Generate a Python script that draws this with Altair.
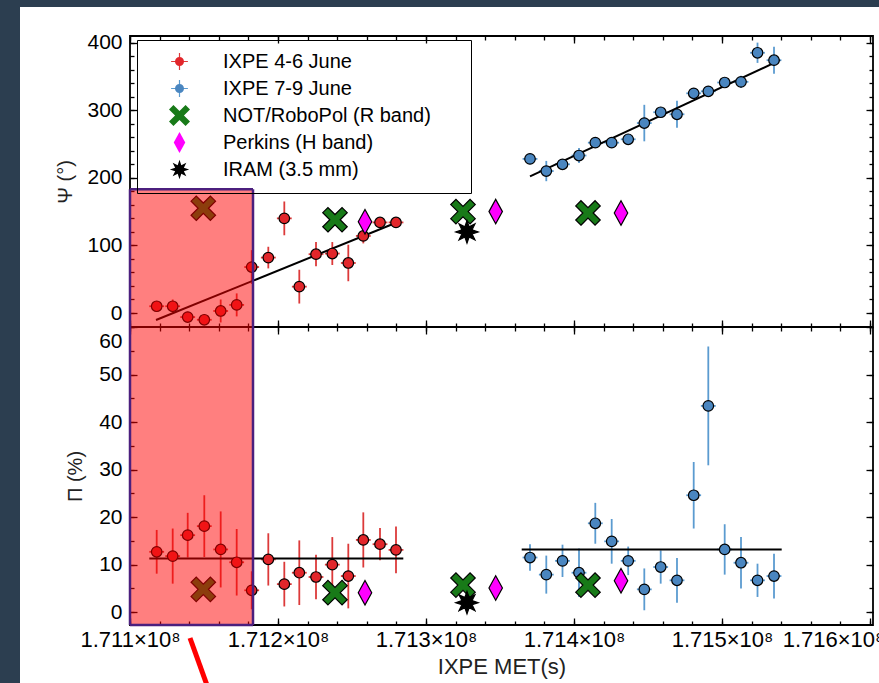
import math
import altair as alt
import pandas as pd

# ---------------- data ----------------
SERIES = ["IXPE 4-6 June", "IXPE 7-9 June", "NOT/RoboPol (R band)",
          "Perkins (H band)", "IRAM (3.5 mm)"]
EB_KEYS = ["e1", "e2", "e3", "e4", "e5"]

# IXPE 4-6 June (red)
red_t = [171118040, 171128850, 171138990, 171150200, 171161280, 171172090,
         171182230, 171193450, 171204260, 171214390, 171225680, 171236690,
         171247500, 171257640, 171268920, 171279730]
red_psi = [10, 10, -6, -10, 3, 12, 68, 82, 140, 39, 87, 88, 74, 114, 134, 134]
red_psi_err = [7, 10, 6, 5, 17, 17, 25, 16, 25, 25, 18, 17, 27, 11, 5, 5]
red_pol = [12.7, 11.8, 16.2, 18.1, 13.2, 10.5, 4.6, 11.1, 5.9, 8.3, 7.4, 10.0,
           7.6, 15.2, 14.3, 13.1]
red_pol_err = [4.6, 5.8, 4.7, 6.5, 8.0, 7.0, 4.0, 5.5, 4.7, 6.8, 4.7, 5.8,
               6.8, 5.8, 3.4, 4.9]

# IXPE 7-9 June (blue)
blue_t = [171370270, 171381280, 171392230, 171403380, 171414390, 171425470,
          171436620, 171447500, 171458580, 171469590, 171480880, 171490740,
          171501820, 171512840, 171523990, 171535140]
blue_psi = [228, 210, 220, 233, 252, 252, 257, 281, 297, 294, 325, 328, 341,
            342, 385, 374]
blue_psi_err = [3, 15, 5, 11, 5, 4, 4, 27, 6, 20, 4, 4, 5, 9, 15, 20]
blue_pol = [11.5, 7.9, 10.8, 8.3, 18.7, 14.9, 10.8, 4.8, 9.5, 6.7, 24.6, 43.4,
            13.2, 10.4, 6.7, 7.6]
blue_pol_err = [2.8, 4.0, 3.4, 5.1, 4.3, 4.7, 3.0, 4.4, 3.5, 4.7, 7.0, 12.5,
                5.3, 5.4, 3.5, 4.7]
t_half = [5000]

# other observatories
not_t = [171149530, 171238510, 171325000, 171409460]
not_psi = [155, 138, 150, 148]
not_pol = [4.8, 4.1, 5.7, 5.7]
perk_t = [171258780, 171347090, 171431760]
perk_psi = [135, 150, 148]
perk_pol = [4.1, 5.1, 6.6]
iram_t = [171327700]
iram_psi = [120]
iram_pol = [2.0]

# fitted lines
fit_psi_red_t = [171117570, 171276820]
fit_psi_red = [-10.4, 131]
fit_psi_blue_t = [171370270, 171539190]
fit_psi_blue = [202, 374]
fit_pol_red_t = [171113040, 171284660]
fit_pol_red = [11.3, 11.3]
fit_pol_blue_t = [171364660, 171540340]
fit_pol_blue = [13.2, 13.2]

# highlighted interval
hl_t = [171100000, 171183110]
hl_psi_top = [183]

# axes
X_DOMAIN = [171100000, 171602027]
PSI_DOMAIN = [-20.7, 409.8]
POL_DOMAIN = [-2.7, 60]
X_MAJOR = [171100000, 171200000, 171300000, 171400000, 171500000, 171600000]
X_MINOR = list(range(171100000, 171600001, 20000))
PSI_MAJOR = [0, 100, 200, 300, 400]
PSI_MINOR = list(range(-20, 401, 20))
POL_MAJOR = [0, 10, 20, 30, 40, 50, 60]
POL_MINOR = list(range(0, 61, 5))

# ---------------- styles / layout ----------------
FONT = "Liberation Sans"
RED_FILL, RED_BAR = "#e2262b", "#dc3a3a"
BLUE_FILL, BLUE_BAR = "#4a86c0", "#5b9bd0"
GREEN, MAGENTA = "#187a18", "#ff00ff"
HL_EDGE = "#4b1f7e"
DARK = "#2c3e50"
W, H_TOP, H_BOT = 743, 291, 298
H = H_TOP + H_BOT

# each panel's scale spans the whole plot height; its data sit in its own band
PSI_FULL = [PSI_DOMAIN[0] - (PSI_DOMAIN[1] - PSI_DOMAIN[0]) * H_BOT / H_TOP, PSI_DOMAIN[1]]
POL_FULL = [POL_DOMAIN[0], POL_DOMAIN[1] + (POL_DOMAIN[1] - POL_DOMAIN[0]) * H_TOP / H_BOT]


def poly(pts):
    return "M" + "L".join(f"{x:.3f},{y:.3f}" for x, y in pts) + "Z"


BOX = "M-1,-1M1,1"
_r = 0.43
CIRCLE = BOX + f"M{_r},0A{_r},{_r},0,1,1,{-_r},0A{_r},{_r},0,1,1,{_r},0Z"
_a = 0.3
_L = math.sqrt(2) - _a
_plus = [(_a, _L), (_a, _a), (_L, _a), (_L, -_a), (_a, -_a), (_a, -_L),
         (-_a, -_L), (-_a, -_a), (-_L, -_a), (-_L, _a), (-_a, _a), (-_a, _L)]
XMARK = BOX + poly([((x - y) / math.sqrt(2), (x + y) / math.sqrt(2)) for x, y in _plus])
DIAMOND = BOX + poly([(0, -1), (0.55, 0), (0, 1), (-0.55, 0)])
STAR = BOX + poly([((0.92 if k % 2 == 0 else 0.45) * math.cos(k * math.pi / 8 - math.pi / 2),
                    (0.92 if k % 2 == 0 else 0.45) * math.sin(k * math.pi / 8 - math.pi / 2))
                   for k in range(16)])
CROSS = BOX + "M-0.8,0L0.8,0M0,-0.8L0,0.8"

SHAPES = [CIRCLE, CIRCLE, XMARK, DIAMOND, STAR]
FILLS = [RED_FILL, BLUE_FILL, GREEN, MAGENTA, "#000000"]
EB_COLORS = [RED_BAR, BLUE_BAR, "transparent", "transparent", "transparent"]


# ---------------- tables ----------------
def errbar_tables(vr, er, vb, eb):
    rv, rh = [], []
    for key, ts, vs, es in (("e1", red_t, vr, er), ("e2", blue_t, vb, eb)):
        for t, v, e in zip(ts, vs, es):
            rv.append({"t": t, "lo": v - e, "hi": v + e, "eb": key})
            rh.append({"tlo": t - t_half[0], "thi": t + t_half[0], "val": v, "eb": key})
    return pd.DataFrame(rv), pd.DataFrame(rh)


def point_table(vals):
    rows = []
    for s, ts, vs in zip(SERIES, [red_t, blue_t, not_t, perk_t, iram_t], vals):
        for t, v in zip(ts, vs):
            rows.append({"t": t, "val": v, "series": s})
    return pd.DataFrame(rows)


def fit_table(tr, vr, tb, vb):
    rows = [{"t": t, "val": v, "series": SERIES[0]} for t, v in zip(tr, vr)]
    rows += [{"t": t, "val": v, "series": SERIES[1]} for t, v in zip(tb, vb)]
    return pd.DataFrame(rows)


top_ebv, top_ebh = errbar_tables(red_psi, red_psi_err, blue_psi, blue_psi_err)
bot_ebv, bot_ebh = errbar_tables(red_pol, red_pol_err, blue_pol, blue_pol_err)
top_pts = point_table([red_psi, blue_psi, not_psi, perk_psi, iram_psi])
bot_pts = point_table([red_pol, blue_pol, not_pol, perk_pol, iram_pol])
top_fit = fit_table(fit_psi_red_t, fit_psi_red, fit_psi_blue_t, fit_psi_blue)
bot_fit = fit_table(fit_pol_red_t, fit_pol_red, fit_pol_blue_t, fit_pol_blue)

xs = alt.Scale(domain=X_DOMAIN, nice=False, zero=False)
ys_psi = alt.Scale(domain=PSI_FULL, nice=False, zero=False)
ys_pol = alt.Scale(domain=POL_FULL, nice=False, zero=False)


def X(f, axis=None):
    return alt.X(f, type="quantitative", scale=xs, axis=axis)


def YP(f, axis=None):
    return alt.Y(f, type="quantitative", scale=ys_psi, axis=axis)


def YQ(f, axis=None):
    return alt.Y(f, type="quantitative", scale=ys_pol, axis=axis)


def tick_axis(orient, offset, values, size):
    return alt.Axis(orient=orient, offset=offset, values=values, tickSize=size,
                    ticks=True, labels=False, domain=False, grid=False, title=None,
                    tickColor="black", tickWidth=1.3, zindex=0)


LEG_COMMON = dict(title=None, orient="none", legendX=7, legendY=4, direction="vertical",
                  padding=10, symbolSize=441, symbolStrokeWidth=1.2, symbolOffset=21,
                  labelOffset=32, labelFontSize=20, labelFont=FONT, rowPadding=0)
LEG1 = alt.Legend(strokeColor="black", symbolStrokeColor="black", labelLimit=400,
                  labelExpr="datum.label + '\u2800\u2800'", zindex=2, **LEG_COMMON)
LEG2 = alt.Legend(symbolType=CROSS, symbolFillColor="transparent", labelExpr="''",
                  zindex=1, **LEG_COMMON)

psi_label_axis = alt.Axis(orient="left", values=PSI_MAJOR, labelFontSize=21,
                          labelPadding=8, ticks=False, tickSize=0, domain=False,
                          grid=False, title="Ψ (°)", titleFontSize=20,
                          titleX=-65, titleY=H_TOP / 2, titleBaseline="middle",
                          titleAngle=270, zindex=0)
pol_label_axis = alt.Axis(orient="left", values=POL_MAJOR, labelFontSize=21,
                          labelPadding=8, ticks=False, tickSize=0, domain=False,
                          grid=False,
                          labelOffset=alt.condition("datum.value == 60", alt.value(14),
                                                    alt.value(0)),
                          title="Π (%)", titleFontSize=20,
                          titleX=-55, titleY=H_TOP + H_BOT / 2, titleBaseline="middle",
                          titleAngle=270, zindex=0)
x_label_axis = alt.Axis(orient="bottom", values=X_MAJOR, labelFontSize=22,
                        labelPadding=4, labelFlush=False, labelOverlap=False,
                        labelOffset=alt.condition("datum.value >= 171600000",
                                                  alt.value(-37), alt.value(0)),
                        labelExpr="format(datum.value / 1e8, '.3f') + '\u00d710\u2078'",
                        ticks=False, tickSize=0, domain=False, grid=False,
                        title="IXPE MET(s)", titleFontSize=22, titlePadding=6, zindex=0)

# axis carriers (invisible marks that only hold axes)
psi_axes = [
    (x_label_axis, psi_label_axis),
    (tick_axis("bottom", -H, X_MAJOR, 7), tick_axis("right", -W, PSI_MAJOR, 7)),
    (tick_axis("bottom", -H, X_MINOR, 4), tick_axis("right", -W, PSI_MINOR, 4)),
    (tick_axis("top", -H_TOP, X_MAJOR, 7), tick_axis("left", -W, PSI_MAJOR, 7)),
    (tick_axis("top", -H_TOP, X_MINOR, 4), tick_axis("left", -W, PSI_MINOR, 4)),
]
pol_axes = [
    (None, pol_label_axis),
    (tick_axis("bottom", -H_BOT, X_MAJOR, 7), tick_axis("right", -W, POL_MAJOR, 7)),
    (tick_axis("bottom", -H_BOT, X_MINOR, 4), tick_axis("right", -W, POL_MINOR, 4)),
    (tick_axis("top", -H, X_MAJOR, 7), tick_axis("left", -W, POL_MAJOR, 7)),
    (tick_axis("top", -H, X_MINOR, 4), tick_axis("left", -W, POL_MINOR, 4)),
]
carriers = [alt.Chart(top_fit).mark_point(opacity=0).encode(x=X("t", xa), y=YP("val", ya))
            for xa, ya in psi_axes]
carriers += [alt.Chart(bot_fit).mark_point(opacity=0).encode(x=X("t", xa), y=YQ("val", ya))
             for xa, ya in pol_axes]

# divider between the two panels
divider = alt.Chart(pd.DataFrame({"t0": [X_DOMAIN[0]], "t1": [X_DOMAIN[1]],
                                  "y": [PSI_DOMAIN[0]]})).mark_rule(
    color="black", strokeWidth=1.8).encode(x=X("t0"), x2="t1", y=YP("y"))

stroke = alt.Stroke("eb:N", scale=alt.Scale(domain=EB_KEYS, range=EB_COLORS), legend=LEG2)
shape = alt.Shape("series:N", scale=alt.Scale(domain=SERIES, range=SHAPES), legend=LEG1)
fill = alt.Fill("series:N", scale=alt.Scale(domain=SERIES, range=FILLS), legend=LEG1)


def data_layers(Y, ebv, ebh, pts, fit):
    return [
        alt.Chart(ebv).mark_rule(strokeWidth=1.8).encode(
            x=X("t"), y=Y("lo"), y2="hi", stroke=stroke),
        alt.Chart(ebh).mark_rule(strokeWidth=1.8).encode(
            x=X("tlo"), x2="thi", y=Y("val"), stroke=stroke),
        alt.Chart(fit).mark_line(color="black", strokeWidth=2).encode(
            x=X("t"), y=Y("val"), detail="series:N"),
        alt.Chart(pts).mark_point(filled=True, size=600, stroke="black",
                                  strokeWidth=1.2, opacity=1).encode(
            x=X("t"), y=Y("val"), shape=shape, fill=fill),
    ]


# highlighted interval, spanning both panels
hl = pd.DataFrame({"t0": [hl_t[0]], "t1": [hl_t[1]], "y0": [PSI_FULL[0]],
                   "y1": [hl_psi_top[0]]})
hl_v = pd.DataFrame({"t": hl_t, "y0": [PSI_FULL[0]] * 2, "y1": [hl_psi_top[0]] * 2})
l_rect = alt.Chart(hl).mark_rect(color="#ff0000", opacity=0.5).encode(
    x=X("t0"), x2="t1", y=YP("y0"), y2="y1")
l_edge_v = alt.Chart(hl_v).mark_rule(color=HL_EDGE, strokeWidth=2.5).encode(
    x=X("t"), y=YP("y0"), y2="y1")
l_edge_t = alt.Chart(hl).mark_rule(color=HL_EDGE, strokeWidth=2.5).encode(
    x=X("t0"), x2="t1", y=YP("y1"))
l_edge_b = alt.Chart(hl).mark_rule(color=HL_EDGE, strokeWidth=2.5).encode(
    x=X("t0"), x2="t1", y=YP("y0"))

# page decoration (dark frame of the screenshot and red pointer)
deco = alt.Chart(pd.DataFrame({"d": [0]}))
band_top = deco.mark_rect(color=DARK).encode(
    x=alt.value(-130), x2=alt.value(W + 6), y=alt.value(-36), y2=alt.value(-29))
band_left = deco.mark_rect(color=DARK).encode(
    x=alt.value(-130), x2=alt.value(-110), y=alt.value(-36), y2=alt.value(H + 58))
pointer = deco.mark_rule(color="#ff0000", strokeWidth=5).encode(
    x=alt.value(60), y=alt.value(602), x2=alt.value(78), y2=alt.value(652))

layers = ([band_top, band_left] + carriers + [divider]
          + data_layers(YP, top_ebv, top_ebh, top_pts, top_fit)
          + data_layers(YQ, bot_ebv, bot_ebh, bot_pts, bot_fit)
          + [l_rect, l_edge_v, l_edge_t, l_edge_b, pointer])

chart = alt.layer(*layers).resolve_scale(y="independent").resolve_axis(
    x="independent", y="independent"
).properties(
    width=W, height=H,
    autosize=alt.AutoSizeParams(type="none"),
    padding={"left": 130, "top": 36, "right": 6, "bottom": 58},
    background="white",
).configure_view(
    stroke="black", strokeWidth=1.8
).configure_axis(
    labelFont=FONT, titleFont=FONT, labelColor="black", titleColor="#222",
    titleFontWeight="normal", grid=False
).configure_legend(
    labelFont=FONT, labelColor="black"
)

chart.save("out.html", embed_options={"renderer": "svg", "actions": False})
